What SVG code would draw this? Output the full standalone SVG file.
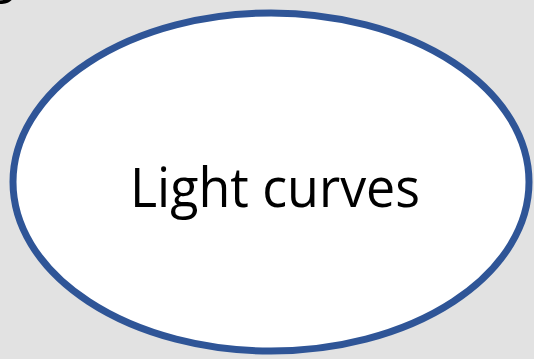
<svg xmlns="http://www.w3.org/2000/svg" width="534" height="359" viewBox="0 0 534 359">
<style>
.t{font-family:"Open Sans","Liberation Sans",sans-serif;fill:#000}
</style>
<rect width="534" height="359" fill="#e2e2e2"/>
<text class="t" x="-14" y="-9" font-size="54">g</text>
<g id="light-curves">
<ellipse cx="271" cy="182" rx="258" ry="169" fill="#fff" stroke="#2f5597" stroke-width="7"/>
<text class="t" x="275" y="207" font-size="54" text-anchor="middle" textLength="290" lengthAdjust="spacingAndGlyphs">Light curves</text>
</g>
<g id="connectors"/>
</svg>
